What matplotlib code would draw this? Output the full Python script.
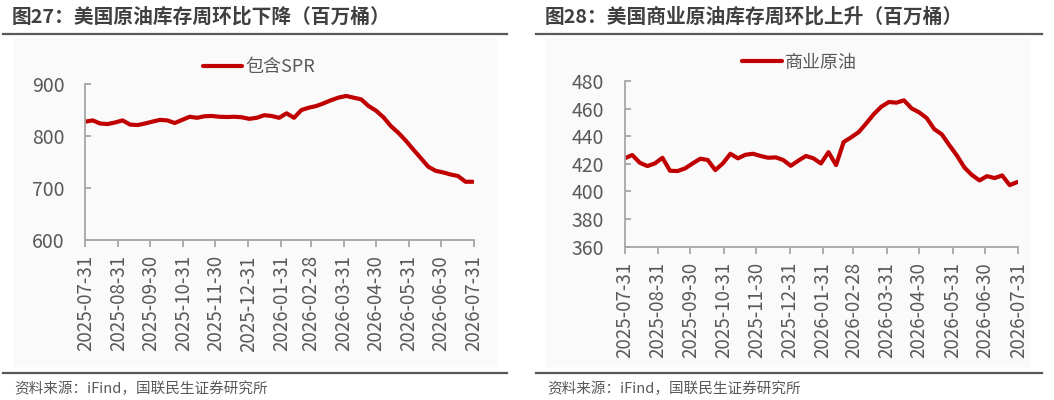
import numpy as np
import pandas as pd
import matplotlib
matplotlib.use("Agg")
import matplotlib.pyplot as plt
import matplotlib.dates as mdates
from matplotlib.lines import Line2D

plt.rcParams['font.family'] = ['Noto Sans CJK SC', 'DejaVu Sans']

# weekly data, millions of barrels
dates = pd.date_range('2025-07-31', periods=53, freq='7D')
total_spr = [827.6, 830, 824, 823, 826, 830, 822, 821, 824, 827.6,
             831, 830, 825, 831, 837, 835, 838, 838.5, 837, 836.5,
             837, 836, 833, 835, 840, 838.5, 835, 843.6, 835, 850,
             854.5, 857.7, 863, 869, 874, 877, 873.7, 870.5, 857.7, 848.7,
             836, 819, 806, 791, 774, 757.7, 741, 733, 730, 726,
             723, 712, 712]
commercial = [424, 426.4, 420.8, 418.4, 420.3, 424.4, 415, 414.8, 416.7, 420.3,
              423.7, 422.8, 415.5, 420.3, 427.3, 424, 426.6, 427.3, 425.7, 424.4,
              424.7, 422.8, 418.6, 422.3, 425.7, 424, 420.3, 428.5, 419.1, 435.8,
              439.2, 443, 449.3, 456, 461.4, 464.8, 464.3, 466, 460.2, 457.3,
              453.2, 445.2, 441.4, 433.6, 426.1, 417.4, 411.9, 408, 411.1, 409.7,
              411.6, 404.6, 406.8]
tick_dates = pd.date_range('2025-07-31', '2026-07-31', freq='ME')

titles = ['图27：美国原油库存周环比下降（百万桶）', '图28：美国商业原油库存周环比上升（百万桶）']
labels = ['包含SPR', '商业原油']
source = '资料来源：iFind，国联民生证券研究所'

red = '#C00000'
gray_txt = '#595959'
W, H = 1054, 400

fig = plt.figure(figsize=(W / 100, H / 100), dpi=100)
fig.patch.set_facecolor('white')

def px(x0, y0, x1, y1):
    # pixel box -> figure fraction rect
    return [x0 / W, 1 - y1 / H, (x1 - x0) / W, (y1 - y0) / H]

# panel backgrounds, header/footer rules, texts
panels = [dict(bg=(13, 38, 497, 366), rule=(3, 507), tx=12),
          dict(bg=(545, 38, 1030, 366), rule=(536, 1042), tx=545)]
for p, title in zip(panels, titles):
    bx0, by0, bx1, by1 = p['bg']
    fig.patches.append(plt.Rectangle((bx0 / W, 1 - by1 / H), (bx1 - bx0) / W, (by1 - by0) / H,
                                     transform=fig.transFigure, color='#FAFAFA', zorder=-1))
    r0, r1 = p['rule']
    for yy in (34, 372.5):
        fig.add_artist(Line2D([r0 / W, r1 / W], [1 - yy / H] * 2, color='#595959', lw=1.6))
    fig.text(p['tx'] / W, 1 - 17 / H, title, fontsize=14.2, fontweight='bold',
             color='#404040', va='center', ha='left')
    fig.text((p['tx'] + 2) / W, 1 - 389 / H, source, fontsize=10.5, color=gray_txt,
             va='center', ha='left')

ax1 = fig.add_axes(px(85.3, 84, 474, 240))
ax2 = fig.add_axes(px(624.7, 81, 1018.3, 246.7))

setups = [(ax1, total_spr, (600, 900), np.arange(600, 901, 100), labels[0], (0.447, 1.109)),
          (ax2, commercial, (360, 480), np.arange(360, 481, 20), labels[1], (0.444, 1.11))]
for ax, vals, ylim, yticks, lab, anchor in setups:
    ax.set_zorder(2)
    ax.set_facecolor('none')
    ax.plot(dates, vals, color=red, lw=3, solid_capstyle='round', label=lab)
    ax.set_xlim(pd.Timestamp('2025-07-31'), pd.Timestamp('2026-07-31'))
    ax.set_ylim(*ylim)
    ax.set_yticks(yticks)
    ax.set_xticks(tick_dates)
    ax.xaxis.set_major_formatter(mdates.DateFormatter('%Y-%m-%d'))
    for s in ['top', 'right']:
        ax.spines[s].set_visible(False)
    for s in ['left', 'bottom']:
        ax.spines[s].set_color('#A6A6A6')
        ax.spines[s].set_linewidth(1.3)
    ax.tick_params(axis='x', direction='out', length=5, color='#A6A6A6', width=1.3,
                   labelsize=13.5, labelcolor=gray_txt, rotation=90, pad=6)
    ax.tick_params(axis='y', direction='in', length=4, color='#A6A6A6', width=1.3,
                   labelsize=14, labelcolor=gray_txt, pad=15)
    ax.legend(loc='center', bbox_to_anchor=anchor, frameon=False, fontsize=13,
              labelcolor=gray_txt, handlelength=2.2, handletextpad=0.2,
              borderaxespad=0, borderpad=0)

fig.savefig('out.png', dpi=100, facecolor='white')
